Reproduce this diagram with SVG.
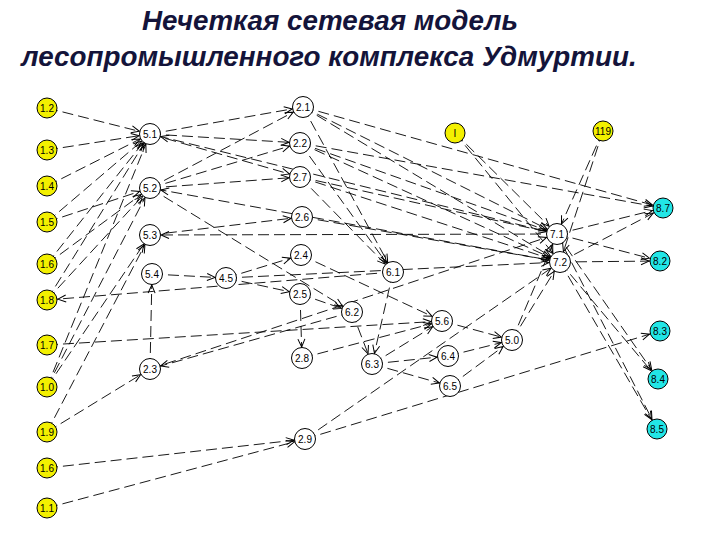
<svg xmlns="http://www.w3.org/2000/svg" width="720" height="540" viewBox="0 0 720 540">
<defs>
<marker id="arr" markerUnits="userSpaceOnUse" markerWidth="20" markerHeight="20" refX="11" refY="0" orient="auto" overflow="visible">
<path d="M-8,-3.5 L0,0 L-8,3.5" fill="none" stroke="#000" stroke-width="1"/>
</marker>
</defs>
<style>
.t{font-family:"Liberation Sans",Arial,sans-serif;font-weight:bold;font-style:italic;font-size:27.8px;fill:#14143a}
.e line{stroke:#000;stroke-width:0.9;stroke-dasharray:11 5;marker-end:url(#arr)}
.n circle{fill:#fff;stroke:#000;stroke-width:1}
.y circle{fill:#f3f000;stroke:#000;stroke-width:1}
.c circle{fill:#22e6e6;stroke:#000;stroke-width:1}
text.l{font-family:"Liberation Sans",Arial,sans-serif;font-size:10px;text-anchor:middle;fill:#000}
</style>
<rect width="720" height="540" fill="#fff"/>
<text class="t" x="330" y="30" text-anchor="middle">Нечеткая сетевая модель</text>
<text class="t" x="329" y="66" text-anchor="middle">лесопромышленного комплекса Удмуртии.</text>
<g class="e" id="connectors">
<line x1="47" y1="108" x2="150" y2="134"/>
<line x1="47" y1="150" x2="150" y2="134"/>
<line x1="47" y1="186" x2="150" y2="134"/>
<line x1="47" y1="222" x2="150" y2="134"/>
<line x1="47" y1="264" x2="150" y2="134"/>
<line x1="47" y1="300" x2="150" y2="134"/>
<line x1="47" y1="387" x2="150" y2="134"/>
<line x1="47" y1="222" x2="150" y2="188"/>
<line x1="47" y1="264" x2="150" y2="188"/>
<line x1="47" y1="300" x2="150" y2="188"/>
<line x1="47" y1="387" x2="150" y2="188"/>
<line x1="47" y1="387" x2="150" y2="235"/>
<line x1="47" y1="432" x2="150" y2="235"/>
<line x1="47" y1="432" x2="150" y2="369"/>
<line x1="47" y1="468" x2="305" y2="439"/>
<line x1="47" y1="508" x2="305" y2="439"/>
<line x1="47" y1="345" x2="442" y2="321"/>
<line x1="150" y1="134" x2="303" y2="107"/>
<line x1="150" y1="134" x2="300" y2="143"/>
<line x1="150" y1="134" x2="300" y2="177"/>
<line x1="150" y1="188" x2="303" y2="107"/>
<line x1="150" y1="188" x2="300" y2="143"/>
<line x1="150" y1="188" x2="300" y2="177"/>
<line x1="150" y1="188" x2="352" y2="312"/>
<line x1="557" y1="234" x2="150" y2="134"/>
<line x1="560" y1="262" x2="150" y2="188"/>
<line x1="557" y1="234" x2="150" y2="235"/>
<line x1="150" y1="235" x2="302" y2="217"/>
<line x1="303" y1="107" x2="393" y2="272"/>
<line x1="300" y1="143" x2="393" y2="272"/>
<line x1="300" y1="177" x2="393" y2="272"/>
<line x1="303" y1="107" x2="557" y2="234"/>
<line x1="303" y1="107" x2="560" y2="262"/>
<line x1="300" y1="143" x2="557" y2="234"/>
<line x1="300" y1="143" x2="560" y2="262"/>
<line x1="300" y1="177" x2="557" y2="234"/>
<line x1="300" y1="177" x2="560" y2="262"/>
<line x1="302" y1="217" x2="560" y2="262"/>
<line x1="300" y1="143" x2="663" y2="208"/>
<line x1="303" y1="107" x2="663" y2="208"/>
<line x1="226" y1="278" x2="301" y2="255"/>
<line x1="226" y1="278" x2="300" y2="294"/>
<line x1="152" y1="274" x2="226" y2="278"/>
<line x1="150" y1="369" x2="152" y2="274"/>
<line x1="226" y1="278" x2="560" y2="262"/>
<line x1="301" y1="255" x2="442" y2="321"/>
<line x1="300" y1="294" x2="302" y2="358"/>
<line x1="300" y1="294" x2="352" y2="312"/>
<line x1="352" y1="312" x2="372" y2="364"/>
<line x1="302" y1="358" x2="442" y2="321"/>
<line x1="393" y1="272" x2="372" y2="364"/>
<line x1="393" y1="272" x2="47" y2="300"/>
<line x1="372" y1="364" x2="448" y2="356"/>
<line x1="372" y1="364" x2="450" y2="386"/>
<line x1="372" y1="364" x2="442" y2="321"/>
<line x1="442" y1="321" x2="512" y2="340"/>
<line x1="448" y1="356" x2="512" y2="340"/>
<line x1="450" y1="386" x2="512" y2="340"/>
<line x1="512" y1="340" x2="560" y2="262"/>
<line x1="512" y1="340" x2="557" y2="234"/>
<line x1="352" y1="312" x2="150" y2="369"/>
<line x1="150" y1="369" x2="557" y2="234"/>
<line x1="455" y1="133" x2="557" y2="234"/>
<line x1="455" y1="133" x2="560" y2="262"/>
<line x1="603" y1="131" x2="557" y2="234"/>
<line x1="603" y1="131" x2="560" y2="262"/>
<line x1="557" y1="234" x2="663" y2="208"/>
<line x1="560" y1="262" x2="663" y2="208"/>
<line x1="557" y1="234" x2="660" y2="261"/>
<line x1="560" y1="262" x2="660" y2="261"/>
<line x1="560" y1="262" x2="658" y2="379"/>
<line x1="557" y1="234" x2="658" y2="379"/>
<line x1="560" y1="262" x2="657" y2="429"/>
<line x1="557" y1="234" x2="657" y2="429"/>
<line x1="305" y1="439" x2="660" y2="331"/>
<line x1="305" y1="439" x2="560" y2="262"/>
</g>
<g id="n12" class="y"><circle cx="47" cy="108" r="10"/><text class="l" x="47" y="112">1.2</text></g>
<g id="n13" class="y"><circle cx="47" cy="150" r="10"/><text class="l" x="47" y="154">1.3</text></g>
<g id="n14" class="y"><circle cx="47" cy="186" r="10"/><text class="l" x="47" y="190">1.4</text></g>
<g id="n15" class="y"><circle cx="47" cy="222" r="10"/><text class="l" x="47" y="226">1.5</text></g>
<g id="n16a" class="y"><circle cx="47" cy="264" r="10"/><text class="l" x="47" y="268">1.6</text></g>
<g id="n18" class="y"><circle cx="47" cy="300" r="10"/><text class="l" x="47" y="304">1.8</text></g>
<g id="n17" class="y"><circle cx="47" cy="345" r="10"/><text class="l" x="47" y="349">1.7</text></g>
<g id="n10" class="y"><circle cx="47" cy="387" r="10"/><text class="l" x="47" y="391">1.0</text></g>
<g id="n19" class="y"><circle cx="47" cy="432" r="10"/><text class="l" x="47" y="436">1.9</text></g>
<g id="n16b" class="y"><circle cx="47" cy="468" r="10"/><text class="l" x="47" y="472">1.6</text></g>
<g id="n11" class="y"><circle cx="47" cy="508" r="10"/><text class="l" x="47" y="512">1.1</text></g>
<g id="nI" class="y"><circle cx="455" cy="133" r="10"/><text class="l" x="455" y="137">I</text></g>
<g id="n119" class="y"><circle cx="603" cy="131" r="10"/><text class="l" x="603" y="135">119</text></g>
<g id="n51" class="n"><circle cx="150" cy="134" r="10.5"/><text class="l" x="150" y="138">5.1</text></g>
<g id="n52" class="n"><circle cx="150" cy="188" r="10.5"/><text class="l" x="150" y="192">5.2</text></g>
<g id="n53" class="n"><circle cx="150" cy="235" r="10.5"/><text class="l" x="150" y="239">5.3</text></g>
<g id="n54" class="n"><circle cx="152" cy="274" r="10.5"/><text class="l" x="152" y="278">5.4</text></g>
<g id="n45" class="n"><circle cx="226" cy="278" r="10.5"/><text class="l" x="226" y="282">4.5</text></g>
<g id="n21" class="n"><circle cx="303" cy="107" r="10.5"/><text class="l" x="303" y="111">2.1</text></g>
<g id="n22" class="n"><circle cx="300" cy="143" r="10.5"/><text class="l" x="300" y="147">2.2</text></g>
<g id="n27" class="n"><circle cx="300" cy="177" r="10.5"/><text class="l" x="300" y="181">2.7</text></g>
<g id="n26" class="n"><circle cx="302" cy="217" r="10.5"/><text class="l" x="302" y="221">2.6</text></g>
<g id="n24" class="n"><circle cx="301" cy="255" r="10.5"/><text class="l" x="301" y="259">2.4</text></g>
<g id="n25" class="n"><circle cx="300" cy="294" r="10.5"/><text class="l" x="300" y="298">2.5</text></g>
<g id="n62" class="n"><circle cx="352" cy="312" r="10.5"/><text class="l" x="352" y="316">6.2</text></g>
<g id="n28" class="n"><circle cx="302" cy="358" r="10.5"/><text class="l" x="302" y="362">2.8</text></g>
<g id="n23" class="n"><circle cx="150" cy="369" r="10.5"/><text class="l" x="150" y="373">2.3</text></g>
<g id="n29" class="n"><circle cx="305" cy="439" r="10.5"/><text class="l" x="305" y="443">2.9</text></g>
<g id="n61" class="n"><circle cx="393" cy="272" r="10.5"/><text class="l" x="393" y="276">6.1</text></g>
<g id="n56" class="n"><circle cx="442" cy="321" r="10.5"/><text class="l" x="442" y="325">5.6</text></g>
<g id="n63" class="n"><circle cx="372" cy="364" r="10.5"/><text class="l" x="372" y="368">6.3</text></g>
<g id="n64" class="n"><circle cx="448" cy="356" r="10.5"/><text class="l" x="448" y="360">6.4</text></g>
<g id="n65" class="n"><circle cx="450" cy="386" r="10.5"/><text class="l" x="450" y="390">6.5</text></g>
<g id="n50" class="n"><circle cx="512" cy="340" r="10.5"/><text class="l" x="512" y="344">5.0</text></g>
<g id="n71" class="n"><circle cx="557" cy="234" r="10.5"/><text class="l" x="557" y="238">7.1</text></g>
<g id="n72" class="n"><circle cx="560" cy="262" r="10.5"/><text class="l" x="560" y="266">7.2</text></g>
<g id="n87" class="c"><circle cx="663" cy="208" r="10"/><text class="l" x="663" y="212">8.7</text></g>
<g id="n82" class="c"><circle cx="660" cy="261" r="10"/><text class="l" x="660" y="265">8.2</text></g>
<g id="n83" class="c"><circle cx="660" cy="331" r="10"/><text class="l" x="660" y="335">8.3</text></g>
<g id="n84" class="c"><circle cx="658" cy="379" r="10"/><text class="l" x="658" y="383">8.4</text></g>
<g id="n85" class="c"><circle cx="657" cy="429" r="10"/><text class="l" x="657" y="433">8.5</text></g>
</svg>
